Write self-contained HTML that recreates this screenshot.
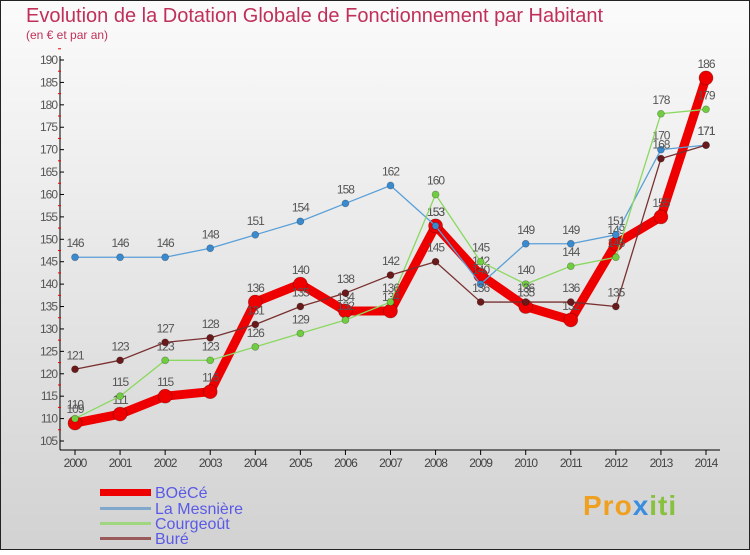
<!DOCTYPE html>
<html><head><meta charset="utf-8"><style>
html,body{margin:0;padding:0}
body{width:750px;height:550px;overflow:hidden;font-family:"Liberation Sans",sans-serif}
</style></head><body>
<svg id="chart" width="750" height="550" xmlns="http://www.w3.org/2000/svg" font-family="Liberation Sans, sans-serif">
<defs><linearGradient id="bg" x1="0" y1="0" x2="0" y2="1"><stop offset="0" stop-color="#fbfbfb"/><stop offset="1" stop-color="#d2d2d2"/></linearGradient></defs>
<rect x="0.5" y="0.5" width="749" height="549" fill="url(#bg)" stroke="#222"/>
<text x="26" y="22" font-size="20" fill="#c0305a">Evolution de la Dotation Globale de Fonctionnement par Habitant</text>
<text x="26" y="39" font-size="12" fill="#c0305a">(en € et par an)</text>
<g id="axes"></g>
<g id="series"></g>
<g id="legend">
<rect x="100" y="489" width="51" height="7" fill="#e00"/>
<text x="155" y="498" font-size="16" fill="#5a5ae6">BOëCé</text>
<rect x="100" y="507" width="51" height="3" fill="#7fa8cc"/>
<text x="155" y="514" font-size="16" fill="#5a5ae6">La Mesnière</text>
<rect x="100" y="522" width="51" height="3" fill="#9fd67f"/>
<text x="155" y="529" font-size="16" fill="#5a5ae6">Courgeoût</text>
<rect x="100" y="537" width="51" height="3" fill="#9a5a5a"/>
<text x="155" y="544" font-size="16" fill="#5a5ae6">Buré</text>
</g>
<text x="583" y="515" font-size="28" font-weight="bold" fill="#f0a020" letter-spacing="1">Pro<tspan fill="#3a8ee0">x</tspan><tspan fill="#88c040">iti</tspan></text>
</svg>
<script>
const years=[2000,2001,2002,2003,2004,2005,2006,2007,2008,2009,2010,2011,2012,2013,2014];
const boece=[109,111,115,116,136,140,134,134,153,142,135,132,149,155,186];
const mesniere=[146,146,146,148,151,154,158,162,153,140,149,149,151,170,171];
const courgeout=[110,115,123,123,126,129,132,136,160,145,140,144,146,178,179];
const bure=[121,123,127,128,131,135,138,142,145,136,136,136,135,168,171];
const yTicks=[105,110,115,120,125,130,135,140,145,150,155,160,165,170,175,180,185,190];
const NS='http://www.w3.org/2000/svg';
const x=i=>75+i*(706-75)/(years.length-1);
const y=v=>441-(v-105)*(441-60)/85;
function mk(tag,attrs,parent){const e=document.createElementNS(NS,tag);for(const k in attrs)e.setAttribute(k,attrs[k]);parent.appendChild(e);return e;}
const ax=document.getElementById('axes');
let a=mk('line',{x1:60,y1:56,x2:60,y2:450,stroke:'#000'},ax);


a=mk('line',{x1:60,y1:450,x2:720,y2:450,stroke:'#000'},ax);


yTicks.forEach(v=>{
 mk('line',{x1:60,y1:y(v),x2:64,y2:y(v),stroke:'#000'},ax);
 mk('line',{x1:58,y1:y(v+2.5),x2:61,y2:y(v+2.5),stroke:'#e00'},ax);
 const t=mk('text',{x:57,y:y(v)+4,'font-size':12,'text-anchor':'end',fill:'#555','letter-spacing':'-1'},ax);
 t.textContent=v;
 
 
});
years.forEach((yr,i)=>{
 mk('line',{x1:x(i),y1:450,x2:x(i),y2:455,stroke:'#000'},ax);
 const t=mk('text',{x:x(i),y:467,'font-size':12,'text-anchor':'middle',fill:'#444','letter-spacing':'-1'},ax);
 t.textContent=yr;
 
 
});
const sg=document.getElementById('series');
function draw(vals,name,color,width,r,dot){
 const g=mk('g',{},sg);
 
 
 const l=mk('polyline',{points:vals.map((v,i)=>x(i)+','+y(v)).join(' '),fill:'none',stroke:color,'stroke-width':width,'stroke-linejoin':'round'},g);
 
 
 vals.forEach((v,i)=>{
  const c=mk('circle',{cx:x(i),cy:y(v),r:r,fill:dot,stroke:'rgba(0,0,0,0.3)','stroke-width':0.7},g);
  
  
  const t=mk('text',{x:x(i),y:y(v)-10,'font-size':12,'text-anchor':'middle',fill:'#555','letter-spacing':'-1'},g);
  t.textContent=v;
  
  
 });
}
draw(boece,'boece','#ee0000',9,7,'#ee0000');
draw(mesniere,'la-mesniere','#5aa0d8',1.3,3.5,'#3a8ad0');
draw(courgeout,'courgeout','#8ad860',1.3,3.5,'#70cc40');
draw(bure,'bure','#7a3030',1.3,3.5,'#6a1a1a');
</script>
</body></html>
